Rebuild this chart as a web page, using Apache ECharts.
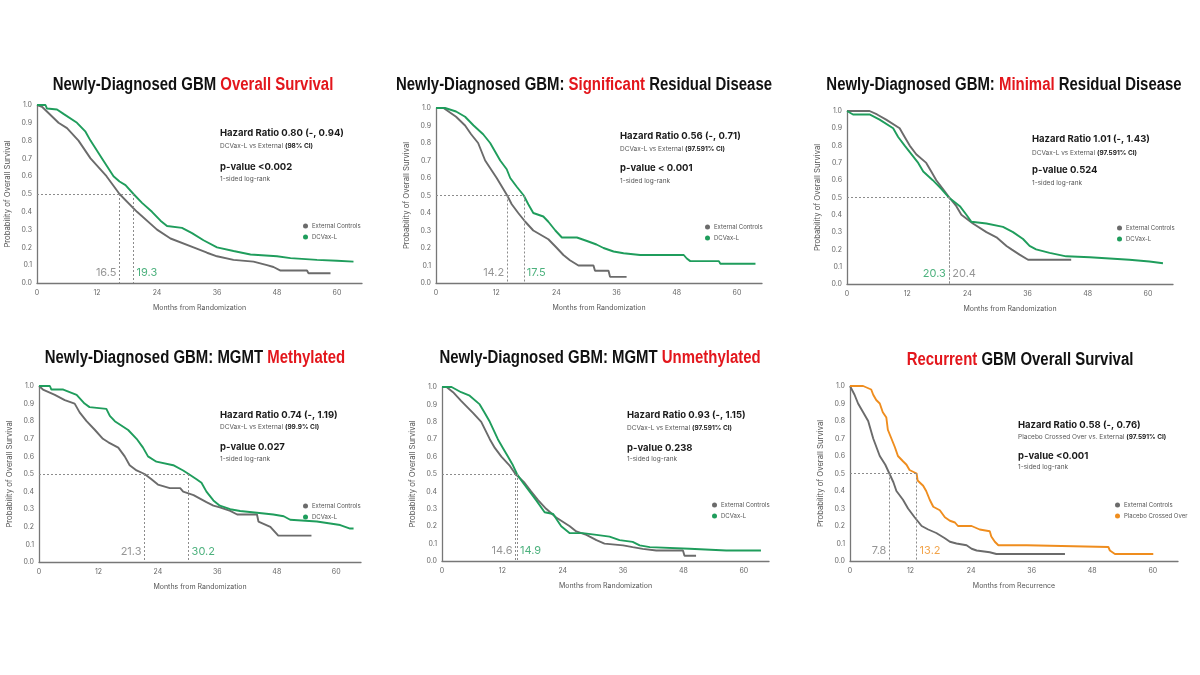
<!DOCTYPE html>
<html>
<head>
<meta charset="utf-8">
<title>GBM survival panels</title>
<script src="https://cdn.jsdelivr.net/npm/echarts@6/dist/echarts.min.js"></script>
<style>
  html, body { margin: 0; padding: 0; background: #fff; }
  #main { width: 1200px; height: 675px; }
</style>
</head>
<body>
<div id="main"></div>
<script>
// Kaplan-Meier curves, [month, probability]
var ndOsExternal = [[0,1],[1,0.99],[4.3,0.9],[6,0.87],[8.3,0.8],[10.7,0.7],[13.9,0.6],[16.5,0.5],[20,0.4],[24,0.3],[26.7,0.25],[31.3,0.2],[34,0.17],[36,0.15],[39.3,0.13],[43.3,0.12],[46,0.1],[47.3,0.09],[48.7,0.07],[54,0.07],[54.3,0.055],[58.7,0.055]];
var ndOsDcvax = [[0,1],[1.7,1],[2,0.98],[4,0.975],[5.3,0.95],[8,0.9],[9.7,0.85],[10.7,0.8],[13,0.7],[15.3,0.6],[16.5,0.57],[17.7,0.55],[19.3,0.5],[21,0.45],[23,0.4],[24.7,0.35],[26,0.32],[29,0.31],[31,0.28],[33.3,0.24],[36,0.2],[39.3,0.18],[42.7,0.16],[48,0.15],[50.7,0.14],[56,0.13],[60,0.125],[63.3,0.12]];

var sigExternal = [[0,1],[1.5,1],[4,0.95],[5.8,0.9],[7,0.85],[8.4,0.8],[9.8,0.7],[12.1,0.6],[14.2,0.5],[15.1,0.45],[16.4,0.4],[17.8,0.35],[19.4,0.3],[22.4,0.25],[24.1,0.2],[25.4,0.16],[26.7,0.13],[28.4,0.1],[31.4,0.1],[31.7,0.07],[34.4,0.07],[34.7,0.035],[38,0.035]];
var sigDcvax = [[0,1],[1.8,1],[4,0.98],[5.8,0.95],[7.5,0.9],[9.4,0.85],[10.8,0.8],[11.8,0.75],[12.8,0.7],[14.1,0.65],[14.8,0.6],[16.1,0.55],[17.5,0.5],[18.4,0.45],[19.4,0.4],[21.4,0.38],[22.4,0.35],[23.8,0.3],[25.1,0.26],[28.1,0.26],[30.1,0.24],[32,0.22],[33.4,0.2],[35.4,0.18],[37.4,0.17],[40.7,0.16],[49.4,0.16],[50,0.14],[50.7,0.125],[56.4,0.125],[56.7,0.11],[63.7,0.11]];

var minExternal = [[0,1],[4.5,1],[6,0.98],[7.8,0.95],[10.5,0.9],[11.5,0.85],[12.5,0.8],[13.8,0.75],[15.8,0.7],[16.8,0.65],[17.8,0.6],[19.1,0.55],[20.4,0.5],[21.8,0.45],[22.8,0.4],[25.1,0.35],[27.8,0.3],[29.8,0.27],[31.8,0.22],[32.8,0.2],[34.4,0.17],[36.1,0.14],[44.7,0.14]];
var minDcvax = [[0,1],[1.2,0.98],[4.5,0.98],[6.5,0.95],[9.2,0.9],[10.2,0.85],[11.5,0.8],[14.2,0.7],[15.2,0.65],[17.1,0.6],[18.8,0.55],[20.3,0.5],[22.5,0.45],[23.8,0.4],[24.8,0.36],[27.8,0.35],[31.1,0.33],[33.1,0.3],[35.1,0.26],[36.4,0.22],[37.7,0.2],[40.4,0.18],[43.7,0.16],[48.4,0.155],[56.3,0.14],[60.3,0.13],[63,0.12]];

var methExternal = [[0,1],[0.8,0.98],[3.2,0.95],[5.2,0.92],[7.2,0.9],[8.2,0.85],[9.6,0.8],[11.3,0.75],[12.9,0.7],[14,0.68],[16,0.65],[17.3,0.6],[18.3,0.55],[19.7,0.52],[21.3,0.5],[22.7,0.47],[24,0.44],[26.4,0.42],[28.5,0.42],[29.1,0.4],[31.2,0.38],[32.5,0.36],[33.8,0.34],[35.2,0.32],[36.5,0.31],[38.6,0.29],[40,0.27],[44,0.27],[44.3,0.23],[46.7,0.2],[48.3,0.15],[55,0.15]];
var methDcvax = [[0,1],[2.2,1],[2.5,0.98],[4.9,0.98],[7.6,0.95],[9.2,0.9],[10.2,0.88],[13.6,0.87],[14.3,0.83],[15.3,0.8],[18,0.75],[19.7,0.7],[21,0.65],[22,0.6],[23.7,0.57],[27.1,0.55],[29.1,0.52],[30.2,0.5],[31.8,0.47],[32.8,0.45],[33.8,0.4],[35.2,0.35],[36.5,0.32],[38.6,0.3],[40.6,0.29],[44,0.28],[47.3,0.27],[49.4,0.26],[50.7,0.24],[56.1,0.23],[60.8,0.21],[62.8,0.19],[63.5,0.19]];

var unmethExternal = [[0,1],[0.9,1],[2.2,0.97],[3.8,0.92],[6.2,0.85],[7.8,0.8],[9.5,0.7],[10.5,0.65],[11.8,0.6],[13.4,0.55],[14.6,0.5],[16.4,0.45],[17.7,0.4],[19.1,0.35],[20.7,0.3],[22.7,0.25],[25.4,0.2],[26.7,0.17],[28.7,0.15],[30.7,0.12],[32.3,0.1],[36,0.09],[37.9,0.08],[39.9,0.07],[42.6,0.06],[47.9,0.06],[48.2,0.03],[50.5,0.03]];
var unmethDcvax = [[0,1],[1.9,1],[3.8,0.97],[5.5,0.95],[7.5,0.9],[8.5,0.85],[9.5,0.8],[11.1,0.7],[12.1,0.65],[13.1,0.6],[14.1,0.55],[14.9,0.5],[16.1,0.45],[17.4,0.4],[18.7,0.35],[20.4,0.28],[22.1,0.27],[23,0.23],[23.7,0.2],[25.4,0.16],[28,0.16],[30.7,0.15],[33.3,0.14],[35.3,0.12],[37.9,0.11],[39.3,0.09],[41.3,0.08],[49.2,0.07],[56.5,0.06],[63.4,0.06]];

var recExternal = [[0,1],[0.3,1],[0.9,0.95],[1.6,0.9],[2.6,0.85],[3.6,0.8],[4.6,0.7],[5.9,0.6],[7,0.55],[7.8,0.5],[8.6,0.45],[9.2,0.4],[10.5,0.35],[11.5,0.3],[12.8,0.25],[14.2,0.2],[15.5,0.18],[17.1,0.16],[18.8,0.13],[19.8,0.11],[21.1,0.1],[23.1,0.09],[24.1,0.07],[25.1,0.06],[27.7,0.05],[29,0.04],[42.6,0.04]];
var recCrossed = [[0,1],[2.6,1],[4.2,0.98],[4.6,0.95],[5.2,0.92],[5.9,0.9],[6.5,0.85],[7.2,0.82],[7.5,0.75],[8.2,0.7],[8.9,0.65],[9.5,0.6],[10.5,0.57],[11.2,0.55],[11.8,0.52],[13.2,0.5],[13.4,0.46],[14.5,0.43],[15.1,0.4],[15.8,0.35],[16.5,0.31],[17.8,0.29],[18.8,0.25],[19.8,0.23],[20.8,0.22],[21.4,0.2],[24.1,0.2],[24.4,0.19],[25.7,0.18],[27.7,0.17],[28,0.14],[28.7,0.11],[29.4,0.09],[35,0.09],[35.2,0.08],[51.2,0.08],[51.5,0.06],[52.5,0.04],[60.1,0.04]];

// medians: [external, treatment]
var medians = [[16.5, 19.3], [14.2, 17.5], [20.4, 20.3], [21.3, 30.2], [14.6, 14.9], [7.8, 13.2]];

var titles = [
  [['Newly-Diagnosed GBM ', 0], ['Overall Survival', 1]],
  [['Newly-Diagnosed GBM: ', 0], ['Significant', 1], [' Residual Disease', 0]],
  [['Newly-Diagnosed GBM: ', 0], ['Minimal', 1], [' Residual Disease', 0]],
  [['Newly-Diagnosed GBM: MGMT ', 0], ['Methylated', 1]],
  [['Newly-Diagnosed GBM: MGMT ', 0], ['Unmethylated', 1]],
  [['Recurrent', 1], [' GBM Overall Survival', 0]]
];
var hazardText = ['Hazard Ratio 0.80 (-, 0.94)', 'Hazard Ratio 0.56 (-, 0.71)', 'Hazard Ratio 1.01 (-, 1.43)',
  'Hazard Ratio 0.74 (-, 1.19)', 'Hazard Ratio 0.93 (-, 1.15)', 'Hazard Ratio 0.58 (-, 0.76)'];
var compareText = ['DCVax-L vs External ', 'DCVax-L vs External ', 'DCVax-L vs External ',
  'DCVax-L vs External ', 'DCVax-L vs External ', 'Placebo Crossed Over vs. External '];
var ciText = ['(98% CI)', '(97.591% CI)', '(97.591% CI)', '(99.9% CI)', '(97.591% CI)', '(97.591% CI)'];
var pText = ['p-value <0.002', 'p-value < 0.001', 'p-value 0.524', 'p-value 0.027', 'p-value 0.238', 'p-value <0.001'];
var xNames = ['Months from Randomization', 'Months from Randomization', 'Months from Randomization',
  'Months from Randomization', 'Months from Randomization', 'Months from Recurrence'];
var controlName = 'External Controls';
var treatNames = ['DCVax-L', 'DCVax-L', 'DCVax-L', 'DCVax-L', 'DCVax-L', 'Placebo Crossed Over'];

var curves = [
  [ndOsExternal, ndOsDcvax], [sigExternal, sigDcvax], [minExternal, minDcvax],
  [methExternal, methDcvax], [unmethExternal, unmethDcvax], [recExternal, recCrossed]
];

// layout of each panel (pixels)
var layout = [
  {grid: [37, 105, 325, 178], title: [193, 85], note: [220, 133, 146, 167, 179], legend: [298, 218]},
  {grid: [436, 108, 326, 175], title: [584, 85], note: [620, 136, 149, 168, 181], legend: [700, 219]},
  {grid: [847, 111, 326, 173], title: [1004, 85], note: [1032, 139, 153, 170, 183], legend: [1112, 220]},
  {grid: [39, 386, 322, 176], title: [195, 358], note: [220, 415, 427, 447, 459], legend: [298, 498]},
  {grid: [442, 387, 327, 174], title: [600, 358], note: [627, 415, 428, 448, 459], legend: [707, 497]},
  {grid: [850, 386, 328, 175], title: [1020, 360], note: [1018, 425, 437, 456, 467], legend: [1110, 497]}
];

var GRAY = '#6b6b6b';
var GREEN = '#1f9d5c';
var ORANGE = '#ef8d1e';
var RED = '#e3161c';
var treatColors = [GREEN, GREEN, GREEN, GREEN, GREEN, ORANGE];
// no narrow face installed: squeeze an Arial-metric bold instead
var titleFont = '"Liberation Sans", Arial, sans-serif';
var titleSqueeze = 0.83;
var bodyFont = 'Inter, Roboto, "Liberation Sans", sans-serif';

var chart = echarts.init(document.getElementById('main'));

var grids = [], xAxes = [], yAxes = [], series = [], legends = [], graphics = [];

layout.forEach(function (p, i) {
  grids.push({left: p.grid[0], top: p.grid[1], width: p.grid[2], height: p.grid[3]});

  xAxes.push({
    gridIndex: i, type: 'value', min: 0, max: 65, interval: 12,
    name: xNames[i], nameLocation: 'middle', nameGap: 21,
    nameTextStyle: {fontSize: 7, color: '#555'},
    axisLine: {show: true, lineStyle: {color: '#777', width: 1.3}},
    axisTick: {show: false},
    splitLine: {show: false},
    axisLabel: {fontSize: 7, color: '#666', margin: 6, showMaxLabel: false}
  });
  yAxes.push({
    gridIndex: i, type: 'value', min: 0, max: 1, interval: 0.1,
    name: 'Probability of Overall Survival', nameLocation: 'middle', nameGap: 25,
    nameTextStyle: {fontSize: 7.7, color: '#555'},
    axisLine: {show: true, lineStyle: {color: '#777', width: 1.3}},
    axisTick: {show: false},
    splitLine: {show: false},
    axisLabel: {fontSize: 7, color: '#666', margin: 5, formatter: function (v) { return v.toFixed(1); }}
  });

  var m = medians[i];
  series.push({
    type: 'line', name: controlName, xAxisIndex: i, yAxisIndex: i,
    data: curves[i][0], symbol: 'none', z: 3,
    lineStyle: {color: GRAY, width: 1.9}, itemStyle: {color: GRAY},
    markLine: {
      silent: true, symbol: 'none',
      lineStyle: {color: '#8c8c8c', width: 1, type: [2, 2]},
      label: {show: false},
      data: [
        [{coord: [0, 0.5]}, {coord: [Math.max(m[0], m[1]), 0.5]}],
        [{coord: [m[0], 0.5]}, {coord: [m[0], 0]}],
        [{coord: [m[1], 0.5]}, {coord: [m[1], 0]}]
      ]
    }
  });
  series.push({
    type: 'line', name: treatNames[i], xAxisIndex: i, yAxisIndex: i,
    data: curves[i][1], symbol: 'none', z: 4,
    lineStyle: {color: treatColors[i], width: 1.9}, itemStyle: {color: treatColors[i]}
  });

  // median value labels beside the dotted drop lines
  var grayLeft = m[0] < m[1];
  [[m[0], '#7a7a7a', grayLeft ? 'left' : 'right'], [m[1], treatColors[i], grayLeft ? 'right' : 'left']].forEach(function (d) {
    series.push({
      type: 'scatter', xAxisIndex: i, yAxisIndex: i, silent: true,
      symbolSize: 0, data: [[d[0], 0.06]], z: 5,
      label: {show: true, position: d[2], distance: 3, formatter: d[0].toFixed(1),
        color: d[1], fontSize: 11, fontFamily: bodyFont}
    });
  });

  legends.push({
    data: [controlName, treatNames[i]], left: p.legend[0], top: p.legend[1],
    orient: 'vertical', icon: 'circle', itemWidth: 5, itemHeight: 5, itemGap: 5,
    selectedMode: false, textStyle: {fontSize: 6, color: '#555', padding: [0, 0, 0, -1]}
  });

  var titleRich = titles[i].map(function (s) { return '{' + (s[1] ? 'r' : 'k') + '|' + s[0] + '}'; }).join('');
  graphics.push({
    type: 'text', x: p.title[0], y: p.title[1], scaleX: titleSqueeze,
    style: {
      text: titleRich, align: 'center', verticalAlign: 'middle',
      rich: {
        k: {fontSize: 18, fontWeight: 'bold', fill: '#111', fontFamily: titleFont},
        r: {fontSize: 18, fontWeight: 'bold', fill: RED, fontFamily: titleFont}
      }
    }
  });

  var n = p.note;
  graphics.push({type: 'text', x: n[0], y: n[1],
    style: {text: hazardText[i], fontSize: 9.5, fontWeight: 'bold', fill: '#1a1a1a', fontFamily: bodyFont, verticalAlign: 'middle'}});
  graphics.push({type: 'text', x: n[0], y: n[2],
    style: {text: '{n|' + compareText[i] + '}{b|' + ciText[i] + '}', verticalAlign: 'middle',
      rich: {
        n: {fontSize: 6.5, fill: '#555', fontFamily: bodyFont},
        b: {fontSize: 6.5, fontWeight: 'bold', fill: '#222', fontFamily: bodyFont}
      }}});
  graphics.push({type: 'text', x: n[0], y: n[3],
    style: {text: pText[i], fontSize: 9.5, fontWeight: 'bold', fill: '#1a1a1a', fontFamily: bodyFont, verticalAlign: 'middle'}});
  graphics.push({type: 'text', x: n[0], y: n[4],
    style: {text: '1-sided log-rank', fontSize: 6.5, fill: '#555', fontFamily: bodyFont, verticalAlign: 'middle'}});
});

var option = {
  animation: false,
  backgroundColor: '#fff',
  textStyle: {fontFamily: bodyFont},
  grid: grids,
  xAxis: xAxes,
  yAxis: yAxes,
  legend: legends,
  series: series,
  graphic: graphics
};
chart.setOption(option);
</script>
</body>
</html>
